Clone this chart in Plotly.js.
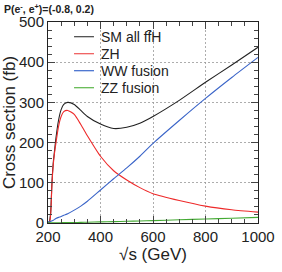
<!DOCTYPE html>
<html>
<head>
<meta charset="utf-8">
<script src="https://cdn.plot.ly/plotly-3.0.1.min.js"></script>
<style>html,body{margin:0;padding:0;background:#fff}#chart{width:282px;height:272px}</style>
</head>
<body>
<div id="chart"></div>
<script>
// sqrt(s) in GeV
const sqrtS = [200, 205, 210, 215, 220, 225, 230, 240, 250, 260, 275, 300, 325, 350, 400, 450, 500, 550, 600, 700, 800, 900, 1000];
// cross sections in fb
const smAll = [2, 3, 25, 100, 150, 180, 210, 255, 282, 295, 300, 295, 280, 265, 246, 235, 238, 248, 265, 305, 350, 393, 437];
const zh    = [0, 0, 20, 95, 145, 175, 198, 240, 265, 277, 280, 270, 245, 217, 166, 130, 107, 88, 73, 56, 42, 33, 27];
const ww    = [2, 3, 4, 5.5, 7, 9, 11, 14, 16, 19, 23, 32, 42, 54, 82, 110, 137, 166, 198, 255, 310, 362, 412];
const zz    = [0.3, 0.3, 0.4, 0.4, 0.5, 0.5, 0.6, 0.7, 0.8, 0.9, 1.0, 1.2, 1.6, 2.0, 2.8, 3.4, 4.2, 5.0, 6.0, 8.0, 10, 12, 14];
const seriesNames = ['SM all f\u0066\u0304H', 'ZH', 'WW fusion', 'ZZ fusion'];
const xTickVals = [200, 400, 600, 800, 1000];
const yTickVals = [0, 100, 200, 300, 400, 500];

const colors = ['#222222', '#ee2a2a', '#3a64c8', '#44aa33'];
const ys = [smAll, zh, ww, zz];
const traces = ys.map((y, i) => ({
  x: sqrtS, y: y, type: 'scatter', mode: 'lines', name: seriesNames[i], showlegend: false,
  line: {color: colors[i], width: 1.1, shape: 'spline', smoothing: 0.6}
}));

const font = {family: 'Liberation Sans, Arial, sans-serif', color: '#222'};

// compact legend (row spacing as in the reference), in paper coordinates
const legX0 = 0.124, legX1 = 0.219, legTextX = 0.243, legY0 = 0.927, legDy = 0.0846;
const legendColors = ['#555555', '#f06060', '#4a74d0', '#66bb55'];
const shapes = seriesNames.map((n, i) => ({
  type: 'line', xref: 'paper', yref: 'paper', x0: legX0, x1: legX1,
  y0: legY0 - i * legDy, y1: legY0 - i * legDy, line: {color: legendColors[i], width: 1.3}
}));
const legendTexts = seriesNames.map((n, i) => ({
  text: n, xref: 'paper', yref: 'paper', x: legTextX, y: legY0 - i * legDy,
  xanchor: 'left', yanchor: 'middle', showarrow: false,
  font: {size: 14, family: font.family, color: '#222'}
}));

const axisCommon = {
  showline: true, linecolor: '#222', linewidth: 1, mirror: 'allticks',
  ticks: 'inside', ticklen: 7, tickcolor: '#444', tickwidth: 1,
  showgrid: true, gridcolor: '#999', griddash: '2px,2px', gridwidth: 0.8,
  zeroline: false, tickfont: {size: 15, family: font.family, color: '#222'}
};
const layout = {
  width: 282, height: 272,
  margin: {l: 48, r: 24, t: 22, b: 49},
  paper_bgcolor: '#fff', plot_bgcolor: '#fff',
  font: font,
  showlegend: false,
  shapes: shapes,
  xaxis: Object.assign({}, axisCommon, {
    range: [200, 1000], tickvals: xTickVals, ticktext: xTickVals.map(String),
    minor: {dtick: 50, ticks: 'inside', ticklen: 4, tickcolor: '#444', showgrid: false},
    title: {text: '\u221As (GeV)', font: {size: 17, family: font.family, color: '#222'}, standoff: 2}
  }),
  yaxis: Object.assign({}, axisCommon, {
    range: [0, 500], tickvals: yTickVals, ticktext: yTickVals.map(String),
    minor: {dtick: 20, ticks: 'inside', ticklen: 4, tickcolor: '#444', showgrid: false},
    title: {text: 'Cross section (fb)', font: {size: 17, family: font.family, color: '#222'}, standoff: 2}
  }),
  annotations: [{
    text: '<b>P(e<sup>-</sup>, e<sup>+</sup>)=(-0.8, 0.2)</b>', xref: 'paper', yref: 'paper',
    x: 0, y: 1, xanchor: 'left', yanchor: 'bottom', xshift: -46, yshift: 5, showarrow: false,
    font: {size: 10.5, family: font.family, color: '#222'}
  }].concat(legendTexts)
};
Plotly.newPlot('chart', traces, layout, {staticPlot: true, displayModeBar: false});
</script>
</body>
</html>
